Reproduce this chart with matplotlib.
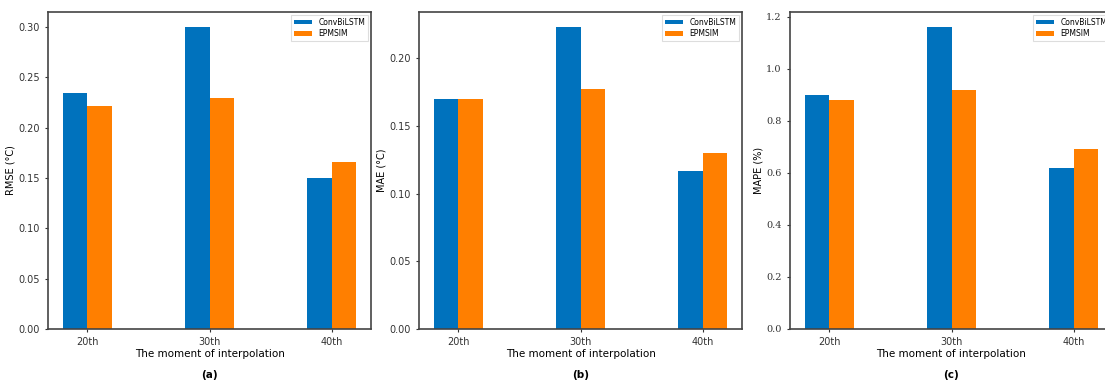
import numpy as np
from matplotlib import pyplot as plt

moments = ['20th', '30th', '40th']
series = ['ConvBiLSTM', 'EPMSIM']

rmse_convbilstm = [0.235, 0.300, 0.150]
rmse_epmsim = [0.222, 0.230, 0.166]
mae_convbilstm = [0.170, 0.223, 0.117]
mae_epmsim = [0.170, 0.177, 0.130]
mape_convbilstm = [0.90, 1.16, 0.62]
mape_epmsim = [0.88, 0.92, 0.69]

colors = ['#0072bd', '#ff7f00']
bar_width = 0.2


def draw_panel(ax, values_a, values_b, ylabel, caption, serif_ticks=False):
    x = np.arange(len(moments))
    ax.bar(x - bar_width / 2, values_a, bar_width, color=colors[0], label=series[0])
    ax.bar(x + bar_width / 2, values_b, bar_width, color=colors[1], label=series[1])
    ax.set_xticks(x)
    ax.set_xticklabels(moments)
    ax.set_xlabel('The moment of interpolation', fontsize=7.5, labelpad=1)
    ax.set_ylabel(ylabel, fontsize=7, labelpad=2)
    ax.tick_params(labelsize=7, length=2.5, width=0.8, colors='#333333')
    if serif_ticks:
        for label in ax.get_yticklabels():
            label.set_family('DejaVu Serif')
    for spine in ax.spines.values():
        spine.set_linewidth(1.2)
        spine.set_color('#444444')
    leg = ax.legend(loc='upper right', fontsize=5.5, handlelength=2.4,
                    handleheight=0.6, labelspacing=0.3, handletextpad=0.8,
                    fancybox=False, framealpha=1, borderpad=0.35,
                    borderaxespad=0.4)
    leg.get_frame().set_edgecolor('#dddddd')
    leg.get_frame().set_linewidth(0.8)
    ax.text(0.5, -0.13, caption, transform=ax.transAxes, ha='center',
            va='top', fontsize=7.5, fontweight='bold')


W, H = 1105, 383
fig = plt.figure(figsize=(W / 100, H / 100), dpi=100)

panels = [
    (48, rmse_convbilstm, rmse_epmsim, 'RMSE (°C)', '(a)', False),
    (419, mae_convbilstm, mae_epmsim, 'MAE (°C)', '(b)', False),
    (790, mape_convbilstm, mape_epmsim, 'MAPE (%)', '(c)', True),
]
for left, a, b, ylabel, caption, serif in panels:
    ax = fig.add_axes([left / W, 54 / H, 323 / W, 317 / H])
    draw_panel(ax, a, b, ylabel, caption, serif)

fig.savefig('out.png', dpi=100)
